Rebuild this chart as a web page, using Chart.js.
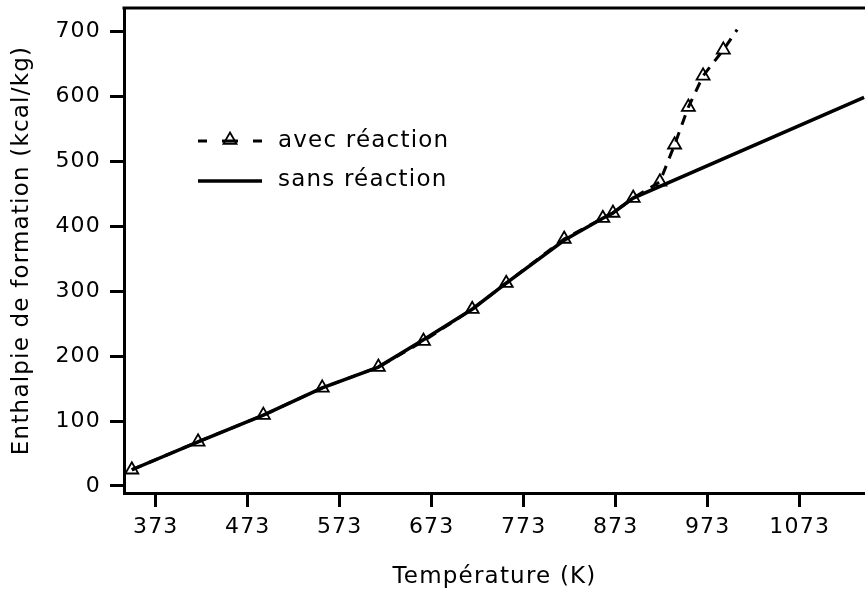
<!DOCTYPE html>
<html>
<head>
<meta charset="utf-8">
<script src="https://cdn.jsdelivr.net/npm/chart.js@4.4.1/dist/chart.umd.min.js"></script>
<style>
  html, body { margin: 0; padding: 0; background: #fff; }
  #wrap { width: 865px; height: 595px; position: relative; }
</style>
</head>
<body>
<div id="wrap"><canvas id="c" width="865" height="595"></canvas></div>
<script>
// ---- data ----
const xAvec = [347, 419, 490, 554, 615, 664, 717, 754, 817, 859, 870, 892, 921, 937, 952, 968, 990, 1005];
const yAvec = [25, 68, 109, 151, 183, 223, 272, 312, 380, 412, 420, 443, 468, 525, 583, 631, 671, 702];
const xSans = [347, 419, 490, 554, 615, 664, 717, 754, 817, 859, 870, 892, 1143];
const ySans = [25, 68, 109, 151, 183, 225, 272, 312, 378, 412, 420, 443, 598];
const xTicks = [373, 473, 573, 673, 773, 873, 973, 1073];
const yTicks = [0, 100, 200, 300, 400, 500, 600, 700];
const seriesNames = ['avec réaction', 'sans réaction'];
const xTitle = 'Température (K)';
const yTitle = 'Enthalpie de formation (kcal/kg)';

const FONT = "'DejaVu Sans', 'Noto Sans', sans-serif";

const toPts = (xs, ys) => xs.map((x, i) => ({ x: x, y: ys[i] }));

const spacingPlugin = {
  id: 'spacing',
  beforeDraw(chart) { try { chart.ctx.letterSpacing = '1.2px'; } catch (e) {} }
};

const framePlugin = {
  id: 'frame',
  afterDraw(chart) {
    const { ctx, chartArea } = chart;
    ctx.save();
    ctx.strokeStyle = '#000';
    ctx.lineWidth = 3;
    ctx.beginPath();
    ctx.moveTo(chartArea.left - 1.5, chartArea.top);
    ctx.lineTo(chart.width, chartArea.top);
    ctx.stroke();

    // legend
    const lx = 198, y1 = 141, y2 = 181;
    ctx.lineWidth = 3;
    ctx.setLineDash([9, 15, 16, 15, 9]);
    ctx.beginPath();
    ctx.moveTo(lx, y1);
    ctx.lineTo(lx + 64, y1);
    ctx.stroke();
    ctx.setLineDash([]);
    // triangle marker
    const r = 7.5, cx = lx + 32, cy = y1 - 1;
    ctx.lineWidth = 1.8;
    ctx.beginPath();
    ctx.moveTo(cx, cy - r);
    ctx.lineTo(cx + r * 0.866, cy + r * 0.5);
    ctx.lineTo(cx - r * 0.866, cy + r * 0.5);
    ctx.closePath();
    ctx.stroke();
    ctx.lineWidth = 3.5;
    ctx.beginPath();
    ctx.moveTo(lx, y2);
    ctx.lineTo(lx + 64, y2);
    ctx.stroke();
    ctx.fillStyle = '#000';
    ctx.font = '23px ' + FONT;
    ctx.textBaseline = 'middle';
    ctx.textAlign = 'left';
    ctx.fillText(seriesNames[0], 278, y1);
    ctx.fillText(seriesNames[1], 278, y2 - 1);
    ctx.restore();
  }
};

new Chart(document.getElementById('c'), {
  type: 'scatter',
  data: {
    datasets: [
      {
        label: seriesNames[1],
        data: toPts(xSans, ySans),
        showLine: true,
        borderColor: '#000',
        borderWidth: 3.5,
        pointRadius: 0,
        tension: 0,
        order: 1
      },
      {
        label: seriesNames[0],
        data: toPts(xAvec, yAvec),
        showLine: true,
        borderColor: '#000',
        borderWidth: 3,
        borderDash: [10, 8],
        pointStyle: 'triangle',
        pointRadius: (c) => (c.dataIndex === xAvec.length - 1 ? 0 : 7.5),
        pointBorderWidth: 1.8,
        pointBorderColor: '#000',
        pointBackgroundColor: 'rgba(0,0,0,0)',
        tension: 0,
        order: 0
      }
    ]
  },
  options: {
    responsive: false,
    animation: false,
    devicePixelRatio: 1,
    layout: { autoPadding: false, padding: { top: 8, right: 0, left: 0, bottom: 0 } },
    plugins: { legend: { display: false }, tooltip: { enabled: false } },
    scales: {
      x: {
        type: 'linear',
        min: 338.5,
        max: 1144,
        afterBuildTicks: (s) => { s.ticks = xTicks.map(v => ({ value: v })); },
        afterFit: (s) => { s.height = 102; s.paddingLeft = 0; s.paddingRight = 0; s.paddingTop = 0; s.paddingBottom = 0; },
        ticks: {
          autoSkip: false, maxRotation: 0, color: '#000', padding: 7,
          font: { family: FONT, size: 22 },
          callback: (v) => String(v)
        },
        grid: { drawOnChartArea: false, drawTicks: true, tickLength: 14, tickColor: '#000', tickWidth: 3 },
        border: { display: true, color: '#000', width: 3 },
        title: { display: true, text: xTitle, color: '#000', font: { family: FONT, size: 23 }, padding: 4 }
      },
      y: {
        type: 'linear',
        min: -10.77,
        max: 735.4,
        afterBuildTicks: (s) => { s.ticks = yTicks.map(v => ({ value: v })); },
        afterFit: (s) => { s.width = 124; s.paddingLeft = 0; s.paddingRight = 0; s.paddingTop = 0; s.paddingBottom = 0; },
        ticks: {
          autoSkip: false, color: '#000', padding: 9,
          font: { family: FONT, size: 22 },
          callback: (v) => String(v)
        },
        grid: { drawOnChartArea: false, drawTicks: true, tickLength: 14, tickColor: '#000', tickWidth: 3 },
        border: { display: true, color: '#000', width: 3 },
        title: { display: true, text: yTitle, color: '#000', font: { family: FONT, size: 23 }, padding: 8 }
      }
    }
  },
  plugins: [spacingPlugin, framePlugin]
});
</script>
</body>
</html>
